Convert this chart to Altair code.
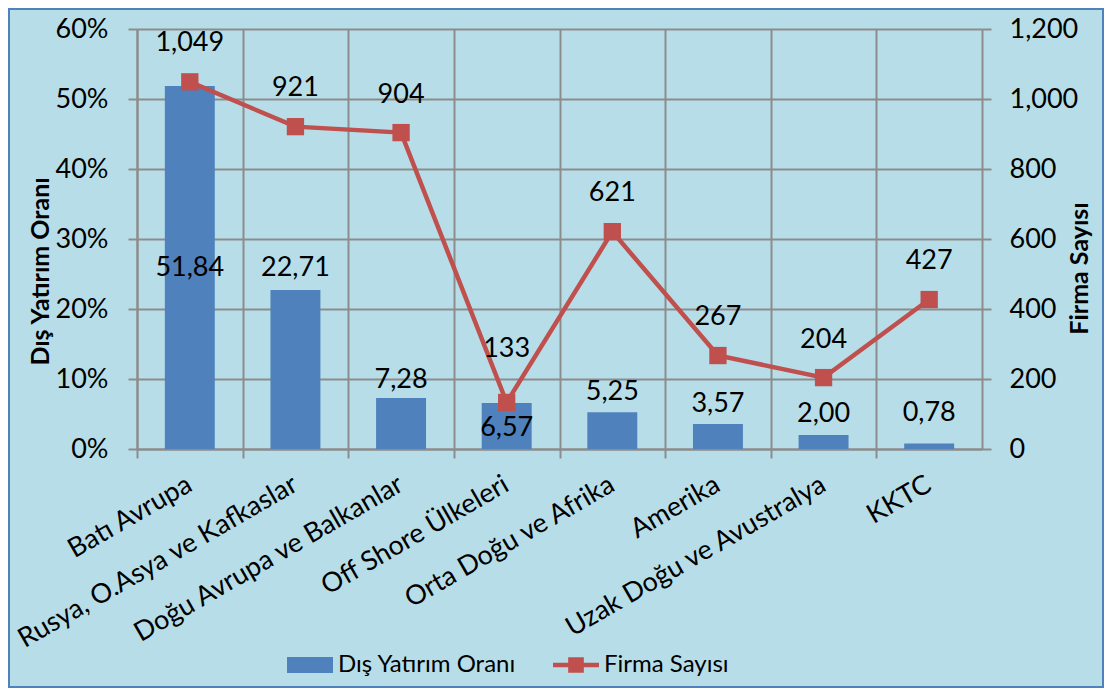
import altair as alt
import pandas as pd

# ---- data ----
regions = ["Batı Avrupa", "Rusya, O.Asya ve Kafkaslar", "Doğu Avrupa ve Balkanlar",
           "Off Shore Ülkeleri", "Orta Doğu ve Afrika", "Amerika",
           "Uzak Doğu ve Avustralya", "KKTC"]
oran = [51.84, 22.71, 7.28, 6.57, 5.25, 3.57, 2.00, 0.78]          # Dış Yatırım Oranı (%)
firma = [1049, 921, 904, 133, 621, 267, 204, 427]                    # Firma Sayısı
# where the value labels sit (in axis units)
oran_label_at = [25.9, 25.9, 9.9, 3.0, 8.1, 6.4, 5.0, 5.1]
firma_label_at = [1160, 1031, 1011, 286, 731, 377, 311, 537]
left_ticks = [0, 10, 20, 30, 40, 50, 60]
right_ticks = [0, 200, 400, 600, 800, 1000, 1200]

BAR_NAME = "Dış Yatırım Oranı"
LINE_NAME = "Firma Sayısı"
LEFT_TITLE = "Dış  Yatırım  Oranı"
RIGHT_TITLE = "Firma  Sayısı"

df = pd.DataFrame({
    "bolge": regions,
    "oran": oran,
    "firma": firma,
    "oran_lbl": [f"{v:.2f}".replace(".", ",") for v in oran],
    "firma_lbl": [f"{v:,}" for v in firma],
    "oran_at": oran_label_at,
    "firma_at": firma_label_at,
})

FONT = "Lato"
BLUE = "#4F81BD"
RED = "#C0504D"
GRID = "#8C8C8C"
BG = "#B7DEE8"
FS = 27        # tick / value label size
TFS = 25       # axis title size
LFS = 24       # legend label size

W, H = 845, 420
PAD = {"left": 129, "top": 21, "right": 122, "bottom": 239}
HALF_STEP = W / len(regions) / 2

x_enc = alt.X(
    "bolge:N", sort=regions, title=None,
    scale=alt.Scale(paddingInner=0.527, paddingOuter=0.2635),
    axis=alt.Axis(labelAngle=-30, labelAlign="right", labelBaseline="top",
                  labelFontSize=FS, labelFont=FONT, labelColor="black",
                  labelPadding=13, labelLimit=0,
                  tickOffset=-HALF_STEP, labelOffset=HALF_STEP - 7,
                  grid=True, gridColor=GRID, gridWidth=2,
                  tickColor=GRID, tickWidth=2, tickSize=9,
                  domainColor=GRID, domainWidth=2))
x_plain = alt.X("bolge:N", sort=regions, title=None,
                scale=alt.Scale(paddingInner=0.527, paddingOuter=0.2635))

color_scale = alt.Scale(domain=[BAR_NAME, LINE_NAME], range=[BLUE, RED])
BAR_PATH = "M-1,-0.35H1V0.35H-1Z"
LINE_PATH = "M-1,-0.1H1V0.1H-1Z M-0.34,-0.34H0.34V0.34H-0.34Z"
is_line = f"datum.value === '{LINE_NAME}'"
legend = alt.Legend(
    title=None, orient="none", legendX=150, legendY=613, direction="horizontal",
    labelFont=FONT, labelFontSize=LFS, labelColor="black", labelLimit=0,
    symbolSize=2116, columnPadding=36, labelOffset=5, padding=0,
    symbolType={"expr": f"{is_line} ? '{LINE_PATH}' : '{BAR_PATH}'"},
    symbolFillColor={"expr": f"{is_line} ? '{RED}' : '{BLUE}'"},
    symbolStrokeColor={"expr": f"{is_line} ? '{RED}' : '{BLUE}'"},
    symbolStrokeWidth=0, symbolOpacity=1,
)

base = alt.Chart(df)

left_axis = alt.Axis(orient="left", values=left_ticks, labelExpr="datum.value + '%'",
                     labelFont=FONT, labelFontSize=FS, labelColor="black",
                     labelPadding=20, tickSize=9, tickColor=GRID, tickWidth=2,
                     domainColor=GRID, domainWidth=2,
                     grid=True, gridColor=GRID, gridWidth=2,
                     titleFont=FONT, titleFontSize=TFS, titleFontWeight="bold",
                     titleColor="black", titleAngle=270, titleAlign="center",
                     titleBaseline="middle", titleX=-97, titleY=242, titleLimit=0)
right_axis = alt.Axis(orient="right", values=right_ticks, format=",d",
                      labelFont=FONT, labelFontSize=FS, labelColor="black",
                      labelPadding=18, tickSize=9, tickColor=GRID, tickWidth=2,
                      domainColor=GRID, domainWidth=2, grid=False,
                      titleFont=FONT, titleFontSize=TFS, titleFontWeight="bold",
                      titleColor="black", titleAngle=270, titleAlign="center",
                      titleBaseline="middle", titleX=97, titleY=239, titleLimit=0)

left_scale = alt.Scale(domain=[0, 60])
right_scale = alt.Scale(domain=[0, 1200])

bars = base.mark_bar(color=BLUE).transform_calculate(seri=f"'{BAR_NAME}'").encode(
    x=x_enc,
    y=alt.Y("oran:Q", scale=left_scale, title=LEFT_TITLE, axis=left_axis),
    color=alt.Color("seri:N", scale=color_scale, legend=legend),
)
bar_text = base.mark_text(font=FONT, fontSize=FS, color="black", baseline="middle").encode(
    x=x_plain,
    y=alt.Y("oran_at:Q", scale=left_scale, axis=None),
    text="oran_lbl:N",
)
line = base.mark_line(strokeWidth=4.5).transform_calculate(seri=f"'{LINE_NAME}'").encode(
    x=x_plain,
    y=alt.Y("firma:Q", scale=right_scale, title=RIGHT_TITLE, axis=right_axis),
    color=alt.Color("seri:N", scale=color_scale, legend=legend),
)
points = base.mark_square(size=300, color=RED, opacity=1, filled=True).encode(
    x=x_plain,
    y=alt.Y("firma:Q", scale=right_scale, axis=None),
)
line_text = base.mark_text(font=FONT, fontSize=FS, color="black", baseline="middle").encode(
    x=x_plain,
    y=alt.Y("firma_at:Q", scale=right_scale, axis=None),
    text="firma_lbl:N",
)

border = alt.Chart(pd.DataFrame({"k": [0]})).mark_rect(
    filled=False, stroke=BLUE, strokeWidth=2).encode(
    x=alt.value(-128), x2=alt.value(W + 121),
    y=alt.value(-20), y2=alt.value(H + 238))

chart = alt.layer(bars, bar_text, line, points, line_text, border).resolve_scale(
    y="independent").properties(
    width=W, height=H,
    autosize=alt.AutoSizeParams(type="none"),
    padding=PAD,
    background=BG,
).configure_view(stroke=None)

chart.save("out.html", embed_options={"renderer": "svg", "actions": False})
